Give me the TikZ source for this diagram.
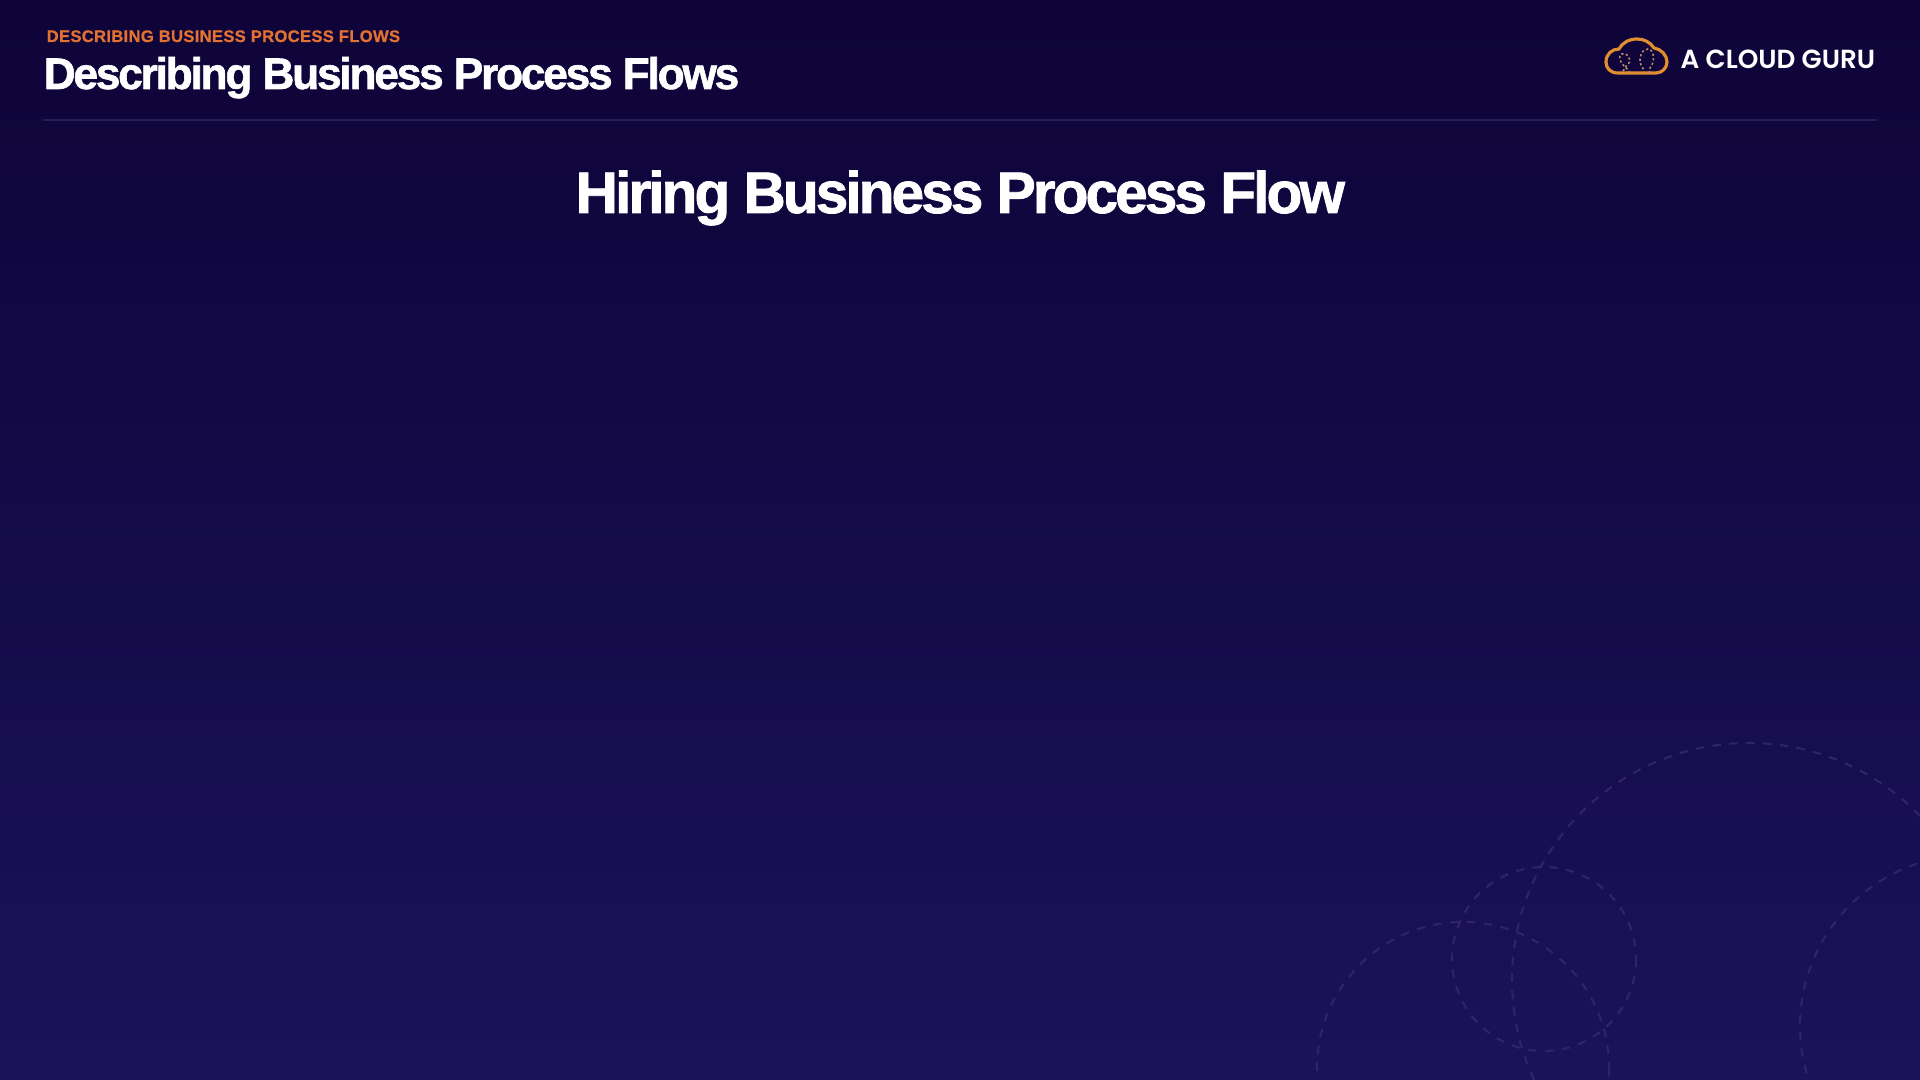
\documentclass[tikz,border=0pt]{standalone}
\usepackage{fontspec}
\usepackage{xcolor}
\setmainfont{Liberation Sans}
\newfontfamily\titlefont[LetterSpace=-5, FakeBold=1.4]{Liberation Sans Bold}
\newfontfamily\tagfont[LetterSpace=1.5, FakeBold=0.6]{Liberation Sans Bold}
\newfontfamily\logofont{Poppins SemiBold}
\definecolor{bgtop}{RGB}{14, 4, 56}
\definecolor{bgbottom}{RGB}{27, 18, 90}
\definecolor{ruleviolet}{RGB}{38, 28, 90}
\definecolor{ringviolet}{RGB}{46, 36, 102}
\definecolor{tagorange}{RGB}{226, 113, 50}
\definecolor{cloudorange}{RGB}{226, 141, 48}
\definecolor{dotorange}{RGB}{190, 140, 110}

\begin{document}
\begin{tikzpicture}[x=0.01cm, y=-0.01cm,
    ring/.style={ringviolet, line width=0.6pt, dash pattern=on 2.4pt off 2.4pt},
    cloudseed/.style={dotorange, line width=0.45pt, dash pattern=on 0.6pt off 0.7pt},
    headline/.style={white, anchor=base west, inner sep=0pt}]
    \useasboundingbox (0,0) rectangle (1920,1080);
    \shade[top color=bgtop, bottom color=bgbottom] (0,0) rectangle (1920,1080);

    % Rings, bottom right
    \begin{scope}
        \clip (0,0) rectangle (1920,1080);
        \draw[ring] (1749,980) circle (237);
        \draw[ring] (1544,959) circle (92);
        \draw[ring] (1463,1068) circle (146);
        \draw[ring] (1971,1026) circle (171);
    \end{scope}

    % Header
    \node[anchor=base west, inner sep=0pt, tagorange, font=\tagfont\fontsize{4.75}{6}\selectfont] (tagline) at (46,42) {DESCRIBING BUSINESS PROCESS FLOWS};
    \node[headline, font=\titlefont\fontsize{12.58}{14}\selectfont] (pagetitle) at (43,89) {Describing Business Process Flows};
    \node[headline, font=\titlefont\fontsize{16.65}{20}\selectfont] (slidetitle) at (575,213) {Hiring Business Process Flow};
    \draw[ruleviolet, line width=0.8pt] (43,120) -- (1877,120);

    % Logo
    \draw[cloudorange, line width=0.9pt, line join=round] (1618,73) .. controls (1610,73) and (1606,68) .. (1606,62) .. controls (1606,54) and (1612,49) .. (1619,49) .. controls (1622,43) and (1629,39) .. (1637,39) .. controls (1644,39) and (1650,42) .. (1654,48) .. controls (1661,49) and (1667,55) .. (1667,62) .. controls (1667,68) and (1662,73) .. (1656,73) -- cycle;
    \draw[cloudseed] (1650,73) .. controls (1648,70) and (1650,68) .. (1652,65) .. controls (1655,58) and (1653,49) .. (1648,49) .. controls (1642,49) and (1638,58) .. (1641,65) .. controls (1642,68) and (1645,70) .. (1644,73);
    \draw[cloudseed] (1630,73) .. controls (1628,68) and (1622,66) .. (1620,60) .. controls (1618,54) and (1624,52) .. (1627,55) .. controls (1630,58) and (1631,62) .. (1628,64) .. controls (1625,67) and (1624,70) .. (1622,73);
    \node[anchor=base west, inner sep=0pt, white, font=\logofont\fontsize{7.45}{9}\selectfont] (logotext) at (1680,69) {A CLOUD GURU};
\end{tikzpicture}
\end{document}
